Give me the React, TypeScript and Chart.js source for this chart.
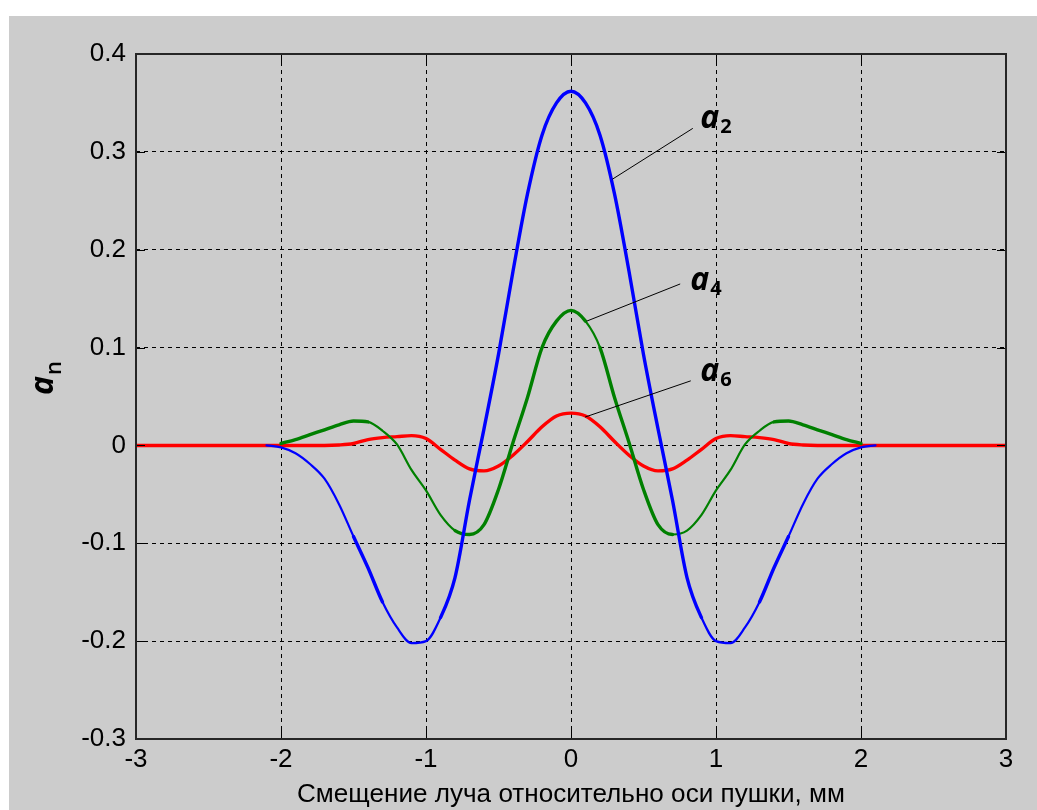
import React, { useEffect, useRef } from 'react';
import { Chart, registerables } from 'chart.js';

Chart.register(...registerables);

// ---- data ----
const xA2 = [-2.1, -2.0, -1.9, -1.8, -1.7, -1.6, -1.5, -1.4, -1.3, -1.2, -1.1, -1.0, -0.9, -0.8, -0.7, -0.6, -0.5, -0.4, -0.3, -0.2, -0.1, 0,
  0.1, 0.2, 0.3, 0.4, 0.5, 0.6, 0.7, 0.8, 0.9, 1.0, 1.1, 1.2, 1.3, 1.4, 1.5, 1.6, 1.7, 1.8, 1.9, 2.0, 2.1];
const a2Values = [0, -0.002, -0.008, -0.019, -0.034, -0.060, -0.093, -0.125, -0.160, -0.186, -0.202, -0.200, -0.176, -0.135, -0.056, 0.017, 0.093, 0.178, 0.257, 0.317, 0.350, 0.362,
  0.350, 0.317, 0.257, 0.178, 0.093, 0.017, -0.056, -0.135, -0.176, -0.200, -0.202, -0.186, -0.160, -0.125, -0.093, -0.060, -0.034, -0.019, -0.008, -0.002, 0];

const xA4 = [-2.0, -1.9, -1.8, -1.7, -1.6, -1.5, -1.4, -1.3, -1.2, -1.1, -1.0, -0.9, -0.8, -0.7, -0.6, -0.5, -0.4, -0.3, -0.2, -0.1, 0,
  0.1, 0.2, 0.3, 0.4, 0.5, 0.6, 0.7, 0.8, 0.9, 1.0, 1.1, 1.2, 1.3, 1.4, 1.5, 1.6, 1.7, 1.8, 1.9, 2.0];
const a4Values = [0.002, 0.006, 0.011, 0.016, 0.021, 0.025, 0.024, 0.015, 0.001, -0.025, -0.046, -0.071, -0.087, -0.091, -0.081, -0.045, 0.003, 0.049, 0.100, 0.127, 0.138,
  0.127, 0.100, 0.049, 0.003, -0.045, -0.081, -0.091, -0.087, -0.071, -0.046, -0.025, 0.001, 0.015, 0.024, 0.025, 0.021, 0.016, 0.011, 0.006, 0.002];

const xA6 = [-3.0, -2.9, -2.8, -2.7, -2.6, -2.5, -2.4, -2.3, -2.2, -2.1, -2.0, -1.9, -1.8, -1.7, -1.6, -1.5, -1.4, -1.3, -1.2, -1.1, -1.0, -0.9, -0.8, -0.7, -0.6, -0.5, -0.4, -0.3, -0.2, -0.1, 0,
  0.1, 0.2, 0.3, 0.4, 0.5, 0.6, 0.7, 0.8, 0.9, 1.0, 1.1, 1.2, 1.3, 1.4, 1.5, 1.6, 1.7, 1.8, 1.9, 2.0, 2.1, 2.2, 2.3, 2.4, 2.5, 2.6, 2.7, 2.8, 2.9, 3.0];
const a6Values = [0, 0, 0, 0, 0, 0, 0, 0, 0, 0, 0, 0, 0, 0, 0.0005, 0.002, 0.006, 0.008, 0.009, 0.010, 0.007, -0.004, -0.015, -0.024, -0.026, -0.021, -0.010, 0.004, 0.019, 0.030, 0.033,
  0.030, 0.019, 0.004, -0.010, -0.021, -0.026, -0.024, -0.015, -0.004, 0.007, 0.010, 0.009, 0.008, 0.006, 0.002, 0.0005, 0, 0, 0, 0, 0, 0, 0, 0, 0, 0, 0, 0, 0, 0];

const seriesNames = ['a2', 'a4', 'a6'];
const seriesColors = ['#0000ff', '#008000', '#ff0000'];
// x-ranges where the rendered line of each series is thinner (as in the reference rendering)
const thinRanges = [
  [[-2.2, -1.55], [-1.28, -0.95], [0.95, 1.28], [1.55, 2.2]],
  [[-1.4, -0.8], [0.08, 0.2], [0.75, 1.4]],
  [],
];

const xTicks = [-3, -2, -1, 0, 1, 2, 3];
const xTickLabels = ['-3', '-2', '-1', '0', '1', '2', '3'];
const yTicks = [-0.3, -0.2, -0.1, 0, 0.1, 0.2, 0.3, 0.4];
const yTickLabels = ['-0.3', '-0.2', '-0.1', '0', '0.1', '0.2', '0.3', '0.4'];

const xTitle = 'Смещение луча относительно оси пушки, мм';
const yTitleMain = 'a';
const yTitleSub = 'n';

// callout labels: main letter + subscript, text anchor and leader line (data coords)
const calloutMain = ['a', 'a', 'a'];
const calloutSub = ['2', '4', '6'];
const calloutTextAt = [[0.891, 0.3245], [0.822, 0.1587], [0.891, 0.0655]];
const calloutFrom = [[0.84, 0.324], [0.753, 0.165], [0.826, 0.066]];
const calloutTo = [[0.285, 0.272], [0.108, 0.127], [0.097, 0.029]];

const TICK_FONT = '"Liberation Sans", Arial, sans-serif';
const LABEL_FONT = '"Open Sans", "DejaVu Sans", sans-serif';

const decorPlugin = {
  id: 'decor',
  afterDraw(chart: any) {
    const { ctx, chartArea: a, scales } = chart;
    const x = scales.x;
    const y = scales.y;
    ctx.save();

    ctx.strokeStyle = '#000';
    ctx.lineWidth = 1;
    ctx.setLineDash([]);
    const seg = (x1: number, y1: number, x2: number, y2: number) => {
      ctx.beginPath();
      ctx.moveTo(x1, y1);
      ctx.lineTo(x2, y2);
      ctx.stroke();
    };
    const TL = 9;
    xTicks.forEach((v) => {
      const px = Math.round(x.getPixelForValue(v)) + 0.5;
      seg(px, a.bottom, px, a.bottom - TL);
      seg(px, a.top, px, a.top + TL);
    });
    yTicks.forEach((v) => {
      const py = Math.round(y.getPixelForValue(v)) + 0.5;
      seg(a.left, py, a.left + TL, py);
      seg(a.right, py, a.right - TL, py);
    });

    // axes box
    ctx.strokeStyle = '#262626';
    ctx.lineWidth = 2;
    ctx.strokeRect(a.left, a.top, a.right - a.left, a.bottom - a.top);

    // callout leader lines
    ctx.strokeStyle = '#000';
    ctx.lineWidth = 1;
    calloutFrom.forEach((f, i) => {
      const t = calloutTo[i];
      seg(x.getPixelForValue(f[0]), y.getPixelForValue(f[1]), x.getPixelForValue(t[0]), y.getPixelForValue(t[1]));
    });

    // callout texts
    ctx.fillStyle = '#000';
    ctx.textAlign = 'left';
    ctx.textBaseline = 'alphabetic';
    calloutTextAt.forEach((p, i) => {
      const px = x.getPixelForValue(p[0]);
      const py = y.getPixelForValue(p[1]);
      ctx.font = `italic 700 32px ${LABEL_FONT}`;
      ctx.fillText(calloutMain[i], px, py);
      const w = ctx.measureText(calloutMain[i]).width;
      ctx.font = `700 20px ${LABEL_FONT}`;
      ctx.fillText(calloutSub[i], px + w + 1, py + 5);
    });

    // y title (rotated)
    ctx.save();
    ctx.translate(44, 379);
    ctx.rotate(-Math.PI / 2);
    ctx.font = `italic 700 32px ${LABEL_FONT}`;
    ctx.fillText(yTitleMain, 0, 0);
    const wa = ctx.measureText(yTitleMain).width;
    ctx.font = `600 22px ${LABEL_FONT}`;
    ctx.fillText(yTitleSub, wa + 1, 8);
    ctx.restore();

    // x title
    ctx.save();
    ctx.font = `25px ${TICK_FONT}`;
    const tw = ctx.measureText(xTitle).width;
    const targetW = 548;
    const cx = (a.left + a.right) / 2;
    ctx.translate(cx, a.bottom + 63);
    ctx.scale(targetW / tw, 1);
    ctx.textAlign = 'center';
    ctx.fillText(xTitle, 0, 0);
    ctx.restore();

    ctx.restore();
  },
};

export default function App() {
  const ref = useRef<HTMLCanvasElement | null>(null);

  useEffect(() => {
    if (!ref.current) return;
    const xs = [xA2, xA4, xA6];
    const ys = [a2Values, a4Values, a6Values];
    const datasets = seriesNames.map((name, i) => ({
      label: name,
      data: xs[i].map((xv, j) => ({ x: xv, y: ys[i][j] })),
      borderColor: seriesColors[i],
      backgroundColor: seriesColors[i],
      borderWidth: 3.2,
      borderCapStyle: 'round' as const,
      borderJoinStyle: 'round' as const,
      pointRadius: 0,
      fill: false,
      cubicInterpolationMode: 'monotone' as const,
      segment: {
        borderWidth: (c: any) => {
          const mx = (c.p0.parsed.x + c.p1.parsed.x) / 2;
          const thin = thinRanges[i].some((r) => mx >= r[0] && mx <= r[1]);
          return thin ? 2.2 : 3.4;
        },
      },
    }));

    const chart = new Chart(ref.current, {
      type: 'line',
      data: { datasets },
      plugins: [decorPlugin],
      options: {
        animation: false,
        responsive: false,
        devicePixelRatio: 1,
        layout: { padding: { top: 38, right: 31, left: 0, bottom: 0 } },
        plugins: {
          legend: { display: false },
          tooltip: { enabled: false },
          title: { display: false },
        },
        scales: {
          x: {
            type: 'linear',
            min: -3,
            max: 3,
            afterBuildTicks: (s: any) => {
              s.ticks = xTicks.map((v) => ({ value: v }));
            },
            afterFit: (s: any) => {
              s.height = 71;
            },
            ticks: {
              color: '#000',
              font: { family: TICK_FONT, size: 26 },
              padding: 5,
              maxRotation: 0,
              autoSkip: false,
              callback: (_v: any, i: number) => xTickLabels[i],
            },
            grid: { color: '#000', lineWidth: 1, drawTicks: false },
            border: { display: false, dash: [4, 4] },
          },
          y: {
            type: 'linear',
            min: -0.3,
            max: 0.4,
            afterBuildTicks: (s: any) => {
              s.ticks = yTicks.map((v) => ({ value: v }));
            },
            afterFit: (s: any) => {
              s.width = 127;
            },
            ticks: {
              color: '#000',
              font: { family: TICK_FONT, size: 26 },
              padding: 10,
              autoSkip: false,
              callback: (_v: any, i: number) => yTickLabels[i],
            },
            grid: { color: '#000', lineWidth: 1, drawTicks: false },
            border: { display: false, dash: [4, 4] },
          },
        },
      },
    });
    return () => chart.destroy();
  }, []);

  return (
    <div
      style={{
        position: 'absolute',
        left: 9,
        top: 16,
        width: 1028,
        height: 794,
        background: '#cccccc',
      }}
    >
      <canvas ref={ref} width={1028} height={794} style={{ display: 'block' }} />
    </div>
  );
}
